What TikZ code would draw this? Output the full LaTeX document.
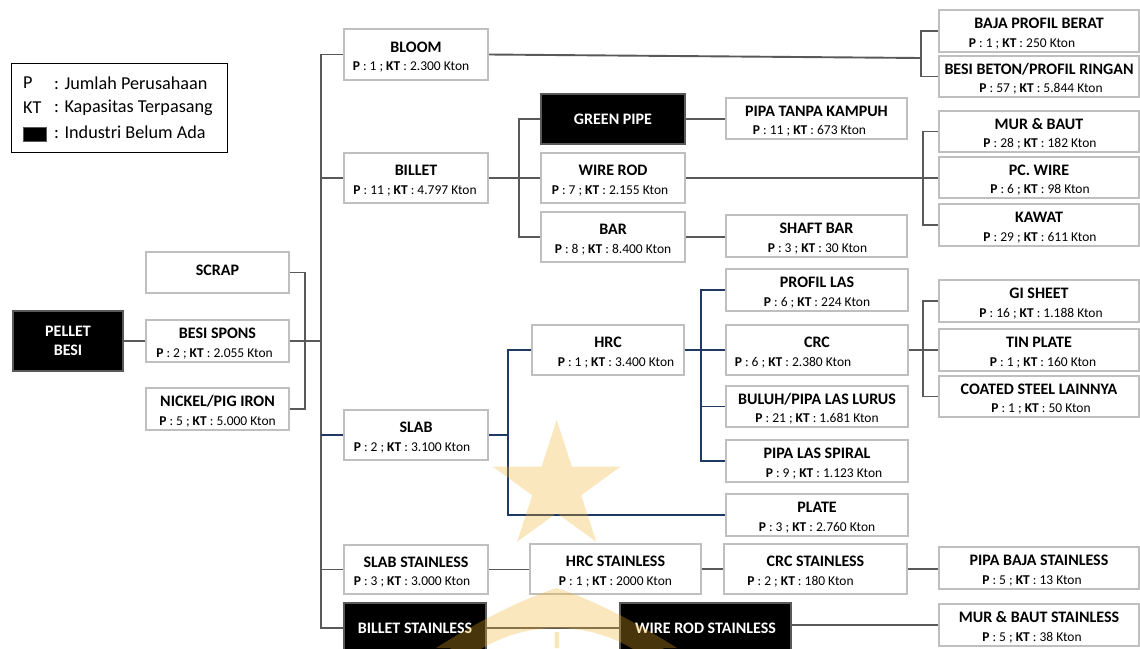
\documentclass[tikz,border=0pt]{standalone}
\usepackage{fontspec}
\setmainfont{Carlito}
\usetikzlibrary{calc}
\pgfdeclarelayer{background}
\pgfdeclarelayer{foreground}
\pgfsetlayers{background,main,foreground}
\definecolor{boxgray}{HTML}{BFBFBF}
\definecolor{linegray}{HTML}{595959}
\definecolor{navy}{HTML}{1F3864}
\definecolor{wm}{HTML}{F5B025}
\tikzset{
  box/.style={draw=boxgray, line width=1.2pt, fill=white, inner sep=0pt},
  blk/.style={draw=linegray, line width=1.2pt, fill=black, text=white, inner sep=0pt,
    font=\fontsize{16}{19}\selectfont\bfseries, align=center},
  ttl/.style={inner sep=0pt, font=\fontsize{16}{18}\selectfont\bfseries},
  subt/.style={inner sep=0pt, font=\fontsize{13.5}{15}\selectfont},
  legtxt/.style={inner sep=0pt, anchor=west, font=\fontsize{18.2}{21}\selectfont},
  conn/.style={draw=linegray, line width=1.9pt},
  bconn/.style={draw=navy, line width=1.9pt},
}
% name x1 y1 x2 y2 title sub subdx
\newcommand\mybox[8]{%
  \node[box, minimum width={(#4-#2)*1pt}, minimum height={(#5-#3)*1pt}] (#1) at ({(#2+#4)/2},{(#3+#5)/2}) {};
  \node[ttl] (#1-t) at ($(#1.center)+(0,-7.5)$) {#6};
  \node[subt] (#1-s) at ($(#1.center)+(#8,12.5)$) {#7};
}
\newcommand\myblk[6]{%
  \node[blk, minimum width={(#4-#2)*1pt}, minimum height={(#5-#3)*1pt}] (#1) at ({(#2+#4)/2},{(#3+#5)/2}) {#6};
}
\newcommand\pk[2]{\textbf{P} : #1 ; \textbf{KT} : #2 Kton}
\begin{document}
\begin{tikzpicture}[x=1pt, y=-1pt]
\useasboundingbox (0,0) rectangle (1140,648);
\clip (0,0) rectangle (1140,648);

% ---------- boxes (nodes) ----------
% legend
\node[draw=black, line width=1pt, minimum width=216pt, minimum height=89pt, inner sep=0pt] (legend) at (119,107.5) {};
\node[legtxt] (lg-p) at (23,83) {P};
\node[legtxt] (lg-pt) at (54,83) {: Jumlah Perusahaan};
\node[legtxt] (lg-kt) at (23,108) {KT};
\node[legtxt] (lg-ktt) at (54,108) {: Kapasitas Terpasang};
\node[fill=black, draw=linegray, line width=0.8pt, minimum width=23pt, minimum height=14pt, inner sep=0pt] (lg-sq) at (35,134) {};
\node[legtxt] (lg-sqt) at (54,132) {: Industri Belum Ada};

\mybox{bloom}{344}{29}{488}{80}{BLOOM}{\pk{1}{2.300}}{-5}
\mybox{billet}{344}{153}{488}{203}{BILLET}{\pk{11}{4.797}}{-1}
\myblk{green}{541}{94}{685}{144}{GREEN PIPE}
\mybox{wire}{541}{153}{685}{203}{WIRE ROD}{\pk{7}{2.155}}{-3}
\mybox{bar}{541}{212}{685}{262}{BAR}{\pk{8}{8.400}}{0}
\mybox{pipatk}{726}{98}{907}{139}{PIPA TANPA KAMPUH}{\pk{11}{673}}{-7}
\mybox{shaft}{726}{215}{907}{257}{SHAFT BAR}{\pk{3}{30}}{1}
\mybox{baja}{939}{10}{1139}{52}{BAJA PROFIL BERAT}{\pk{1}{250}}{-17}
\mybox{beton}{939}{56}{1139}{97}{BESI BETON/PROFIL RINGAN}{\pk{57}{5.844}}{2}
\mybox{mur}{939}{111}{1139}{152}{MUR \& BAUT}{\pk{28}{182}}{1}
\mybox{pcwire}{939}{157}{1139}{198}{PC. WIRE}{\pk{6}{98}}{1}
\mybox{kawat}{939}{204}{1139}{246}{KAWAT}{\pk{29}{611}}{1}

\node[box, minimum width=143pt, minimum height=41pt] (scrap) at (217.5,272.5) {};
\node[ttl] (scrap-t) at (217.5,270.5) {SCRAP};
\myblk{pellet}{13}{311}{123}{371}{PELLET\\BESI}
\mybox{spons}{146}{320}{289}{362}{BESI SPONS}{\pk{2}{2.055}}{-3}
\mybox{nickel}{146}{388}{289}{430}{NICKEL/PIG IRON}{\pk{5}{5.000}}{0}

\mybox{slab}{344}{410}{488}{460}{SLAB}{\pk{2}{3.100}}{-4}
\mybox{hrc}{532}{325}{684}{375}{HRC}{\pk{1}{3.400}}{8}
\mybox{profil}{726}{269}{908}{311}{PROFIL LAS}{\pk{6}{224}}{0}
\mybox{crc}{726}{325}{908}{375}{CRC}{\pk{6}{2.380}}{-24}
\mybox{buluh}{726}{386}{908}{427}{BULUH/PIPA LAS LURUS}{\pk{21}{1.681}}{0}
\mybox{spiral}{726}{440}{908}{482}{PIPA LAS SPIRAL}{\pk{9}{1.123}}{7}
\mybox{plate}{726}{494}{908}{536}{PLATE}{\pk{3}{2.760}}{0}
\mybox{gi}{939}{280}{1139}{322}{GI SHEET}{\pk{16}{1.188}}{2}
\mybox{tin}{939}{329}{1139}{371}{TIN PLATE}{\pk{1}{160}}{4}
\mybox{coated}{939}{376}{1139}{417}{COATED STEEL LAINNYA}{\pk{1}{50}}{2}

\mybox{slabs}{344}{545}{488}{594}{SLAB STAINLESS}{\pk{3}{3.000}}{-4}
\mybox{hrcs}{530}{544}{701}{594}{HRC STAINLESS}{\textbf{P} : 1 ; \textbf{KT} : 2000 Kton}{0}
\mybox{crcs}{724}{544}{907}{594}{CRC STAINLESS}{\pk{2}{180}}{-15}
\mybox{pipabs}{939}{547}{1139}{589}{PIPA BAJA STAINLESS}{\pk{5}{13}}{-7}
\mybox{murs}{939}{604}{1139}{646}{MUR \& BAUT STAINLESS}{\pk{5}{38}}{-7}
\myblk{bstl}{344}{603}{486}{653}{BILLET STAINLESS}
\myblk{wrs}{620}{603}{791}{653}{WIRE ROD STAINLESS}

% ---------- connectors ----------
\coordinate (trunk) at (320.7,0);
\coordinate (ib) at (305,0);
\coordinate (b1) at (920.7,0);
\coordinate (b2) at (519,0);
\coordinate (b3) at (923.3,0);
\coordinate (b4) at (508.3,0);
\coordinate (b5) at (700.7,0);
\begin{pgfonlayer}{background}
\fill[white] (0,0) rectangle (1140,648);
% main trunk
\draw[conn] (bloom.west) -- (bloom.west -| trunk) -- (bstl.west -| trunk) -- (bstl.west);
\draw[conn] (billet.west) -- (billet.west -| trunk);
\draw[conn] (slabs.west) -- (slabs.west -| trunk);
\draw[bconn] (slab.west) -- (slab.west -| trunk);
% inputs
\draw[conn] (scrap.east) -- (scrap.east -| ib) -- (nickel.east -| ib) -- (nickel.east);
\draw[conn] (spons.east) -- (spons.east -| trunk);
\draw[conn] (pellet.east) -- (spons.west);
% bloom
\draw[conn] (bloom.east) -- ($(bloom.east -| b1)+(0,3.5)$);
\draw[conn] (baja.west) -- (baja.west -| b1) -- (beton.west -| b1) -- (beton.west);
% billet
\draw[conn] (green.west) -- (green.west -| b2) -- (bar.west -| b2) -- (bar.west);
\draw[conn] (billet.east) -- (wire.west);
\draw[conn] (green.east) -- (green.east -| pipatk.west);
\draw[conn] (bar.east) -- (bar.east -| shaft.west);
\draw[conn] (wire.east) -- (wire.east -| pcwire.west);
\draw[conn] (mur.west) -- (mur.west -| b3) -- (kawat.west -| b3) -- (kawat.west);
% slab (blue)
\draw[bconn] (slab.east) -- (slab.east -| b4);
\draw[bconn] (hrc.west) -- (hrc.west -| b4) -- (plate.west -| b4) -- (plate.west);
\draw[bconn] (hrc.east) -- (crc.west);
\draw[bconn] (profil.west) -- (profil.west -| b5) -- (spiral.west -| b5) -- (spiral.west);
\draw[bconn] (buluh.west) -- (buluh.west -| b5);
% crc
\draw[conn] (crc.east) -- (crc.east -| tin.west);
\draw[conn] (gi.west) -- (gi.west -| b3) -- (coated.west -| b3) -- (coated.west);
% stainless
\draw[conn] (slabs.east) -- (slabs.east -| hrcs.west);
\draw[conn] (hrcs.east) -- (hrcs.east -| crcs.west);
\draw[conn] (crcs.east) -- (crcs.east -| pipabs.west);
\draw[conn] (bstl.east) -- (wrs.west);
\draw[conn] (wrs.east |- murs.west) -- (murs.west);
\end{pgfonlayer}

% ---------- watermark ----------
\begin{pgfonlayer}{foreground}
\begin{scope}[transparency group, opacity=0.3]
\coordinate (wc) at (556.7,487.3);
\fill[wm] ($(wc)+(-90:67.3)$) -- ($(wc)+(-54:25.7)$) -- ($(wc)+(-18:67.3)$)
  -- ($(wc)+(18:25.7)$) -- ($(wc)+(54:67.3)$) -- ($(wc)+(90:25.7)$)
  -- ($(wc)+(126:67.3)$) -- ($(wc)+(162:25.7)$) -- ($(wc)+(198:67.3)$)
  -- ($(wc)+(234:25.7)$) -- cycle;
\fill[wm] (436,648) .. controls (480,620) and (525,598) .. (556.7,588)
  .. controls (588,598) and (633,620) .. (677,648) -- (652,648)
  .. controls (615,632) and (580,622) .. (556.7,620)
  .. controls (533,622) and (498,632) .. (461,648) -- cycle;
\draw[wm, line width=18pt] (557,776) circle[radius=157];
\fill[wm] (554.5,632) rectangle (559,648);
\end{scope}
\end{pgfonlayer}
\end{tikzpicture}
\end{document}
